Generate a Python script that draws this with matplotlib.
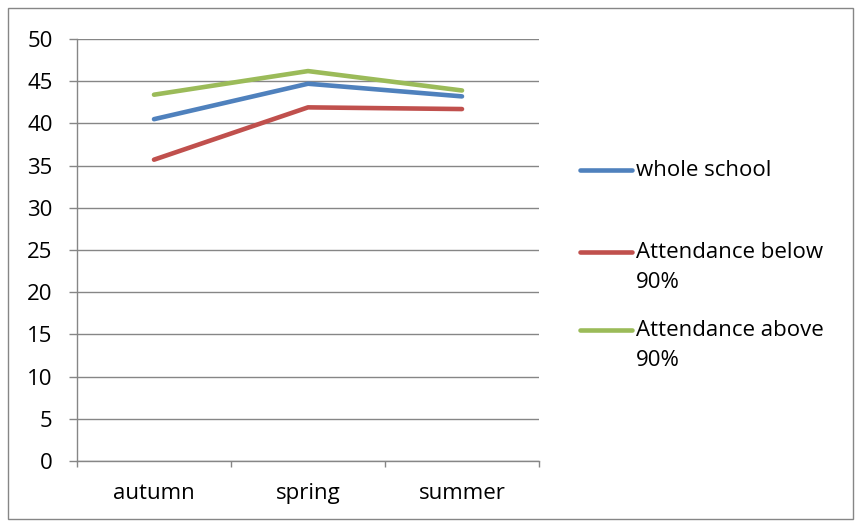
import matplotlib
matplotlib.use("Agg")
import matplotlib.pyplot as plt
from matplotlib.lines import Line2D
from matplotlib.patches import Rectangle

terms = ["autumn", "spring", "summer"]
whole_school = [40.5, 44.7, 43.2]
below_90 = [35.7, 41.9, 41.7]
above_90 = [43.4, 46.2, 43.9]
series_labels = ["whole school", "Attendance below\n90%", "Attendance above\n90%"]
series_colors = ["#4F81BD", "#C0504D", "#9BBB59"]
y_ticks = [0, 5, 10, 15, 20, 25, 30, 35, 40, 45, 50]

plt.rcParams['font.family'] = ['Open Sans', 'DejaVu Sans']
FS = 16

W, H = 855, 521
fig = plt.figure(figsize=(W / 100, H / 100), dpi=100)
fig.patch.set_facecolor("white")

# outer chart frame
fig.add_artist(Rectangle((8 / W, 2 / H), 845 / W, 511 / H, transform=fig.transFigure,
                         fill=False, edgecolor="#868686", linewidth=1.0))

ax = fig.add_axes([77 / W, 1 - 461 / H, (539 - 77) / W, (461 - 39) / H])
grid_c = "#868686"
x = list(range(len(terms)))
for vals, col in zip([whole_school, below_90, above_90], series_colors):
    ax.plot(x, vals, color=col, linewidth=3.3, solid_capstyle="round", zorder=3)

ax.set_xlim(-0.5, len(terms) - 0.5)
ax.set_ylim(0, 50)
ax.set_yticks(y_ticks)
ax.yaxis.grid(True, color=grid_c, linewidth=1.0)
ax.set_axisbelow(True)
for s in ["top", "right"]:
    ax.spines[s].set_visible(False)
for s in ["left", "bottom"]:
    ax.spines[s].set_color(grid_c)
    ax.spines[s].set_linewidth(1.0)

ax.set_xticks([i - 0.5 for i in range(len(terms) + 1)])
ax.set_xticklabels([])
ax.set_xticks(x, minor=True)
ax.set_xticklabels(terms, minor=True)
ax.tick_params(axis="x", which="major", direction="out", length=4.5, color=grid_c, width=1.0)
ax.tick_params(axis="x", which="minor", length=0, pad=16, labelsize=FS)
ax.tick_params(axis="y", direction="out", length=5.5, color=grid_c, width=1.0, pad=12, labelsize=FS)

# legend drawn beside the plot
legend_y = [170, 252, 330]
line_gap = 31
for lab, col, yy in zip(series_labels, series_colors, legend_y):
    fig.add_artist(Line2D([580 / W, 632 / W], [1 - yy / H, 1 - yy / H], transform=fig.transFigure,
                          color=col, linewidth=3.3, solid_capstyle="round"))
    for k, part in enumerate(lab.split("\n")):
        fig.text(636 / W, 1 - (yy + k * line_gap) / H, part, ha="left", va="center",
                 fontsize=FS)

fig.savefig("out.png", dpi=100)
